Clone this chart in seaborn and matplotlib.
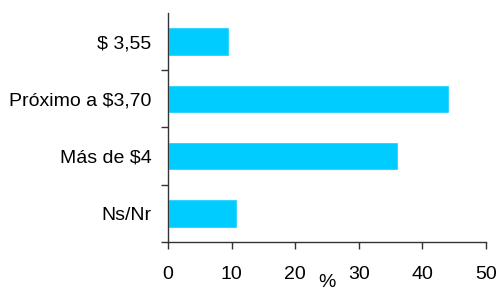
import matplotlib
matplotlib.use("Agg")
import matplotlib.pyplot as plt
import seaborn as sns
import pandas as pd
from matplotlib.ticker import FixedLocator

categories = ["$ 3,55", "Próximo a $3,70", "Más de $4", "Ns/Nr"]
values = [9.6, 44.2, 36.2, 10.8]
xticks = [0, 10, 20, 30, 40, 50]

sns.set_style("white")
plt.rcParams['font.family'] = ['Liberation Sans', 'DejaVu Sans']
plt.rcParams['text.color'] = 'black'
plt.rcParams['xtick.color'] = 'black'
plt.rcParams['ytick.color'] = 'black'
plt.rcParams['axes.labelcolor'] = 'black'

df = pd.DataFrame({"cat": categories, "val": values})
fig = plt.figure(figsize=(4.97, 2.94), dpi=100)
ax = fig.add_axes([0.338, 0.177, 0.640, 0.779])
sns.barplot(data=df, x="val", y="cat", color="#00CCFF", saturation=1, width=0.5, ax=ax, orient="h")

ax.set_xlim(0, 50)
ax.set_ylim(3.5, -0.5)
ax.set_xticks(xticks)
ax.set_xticklabels([str(t) for t in xticks], fontsize=14)
ax.set_yticks(range(len(categories)))
ax.set_yticklabels(categories, fontsize=14)
ax.yaxis.set_minor_locator(FixedLocator([0.5, 1.5, 2.5, 3.5]))
ax.tick_params(axis='y', which='major', length=0, pad=12)
ax.tick_params(axis='y', which='minor', length=5, width=1, color='#333333', direction='out', left=True)
ax.tick_params(axis='x', which='major', length=5, width=1, color='#333333', direction='out', bottom=True, pad=12)
ax.set_xlabel("%", fontsize=14, labelpad=-6)
ax.set_ylabel("")
for s in ['top', 'right']:
    ax.spines[s].set_visible(False)
for s in ['left', 'bottom']:
    ax.spines[s].set_color('#333333')
    ax.spines[s].set_linewidth(1)

fig.savefig("out.png", dpi=100)
